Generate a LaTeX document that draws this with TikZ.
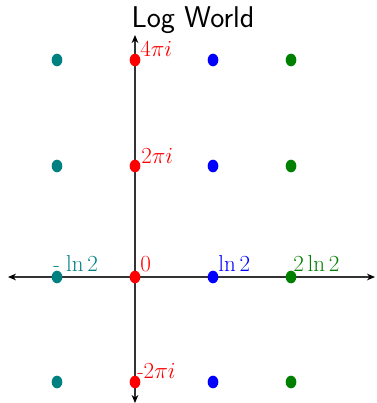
\documentclass[tikz,border=0pt]{standalone}
\usepackage{tikz}
\usetikzlibrary{calc}
\usetikzlibrary{positioning, arrows.meta, shapes.geometric}
\definecolor{logGreen}{RGB}{0,128,0}
\tikzset{
    dot/.style={ellipse, inner sep=0pt, minimum width=8pt, minimum height=9.5pt},
    axis/.style={{Stealth[length=6pt,width=5pt,black]}-{Stealth[length=6pt,width=5pt,black]}, black!80, line width=0.8pt},
    lbl/.style={anchor=base west, inner sep=0pt, font=\fontsize{16}{18}\selectfont}
}
\usepackage{amsmath}
\usepackage{xcolor}

\begin{document}
\begin{tikzpicture}[
		x=0.75pt, y=-0.75pt,
		% Điểm tô màu theo cột
		col-dot/.style={dot, fill=#1}
		]
		\useasboundingbox (0,0) rectangle (376,403);
		
		% Tiêu đề
		\node (title) [anchor=base, inner sep=0pt, font=\sffamily\fontsize{22.5}{26}\selectfont] at (193,28) {Log World};
		
		% Các trục
		\coordinate (xl) at (8,277);
		\coordinate (xr) at (375,277);
		\coordinate (yt) at (135,35);
		\coordinate (yb) at (135,403);
		\draw [axis] (xl) -- (xr);
		\draw [axis] (yt) -- (yb);
		
		% Vẽ các điểm
		\foreach \c/\x/\col in {t/57/teal, r/135/red, b/213/blue, g/291/logGreen} {
			\foreach \r/\y in {a/60, b/166, c/277, d/382} {
				\node (\c\r) [col-dot=\col] at (\x,\y) {};
			}
		}
		
		% Nhãn trên trục hoành
		\node (lblm) [lbl, teal] at ($(tc)+(-4,-6)$) {- $\ln 2$};
		\node (lblo) [lbl, red] at ($(rc)+(5,-6)$) {$0$};
		\node (lbll) [lbl, blue] at ($(bc)+(5,-6)$) {$\ln 2$};
		\node (lbld) [lbl, logGreen] at ($(gc)+(2,-6)$) {$2\ln 2$};
		
		% Nhãn trên trục tung
		\node (lblf) [lbl, red] at ($(ra)+(5,-4)$) {$4\pi i$};
		\node (lblt) [lbl, red] at ($(rb)+(6,-3)$) {$2\pi i$};
		\node (lbln) [lbl, red] at ($(rd)+(2,-4)$) {-$2\pi i$};
		
	\end{tikzpicture}
\end{document}
